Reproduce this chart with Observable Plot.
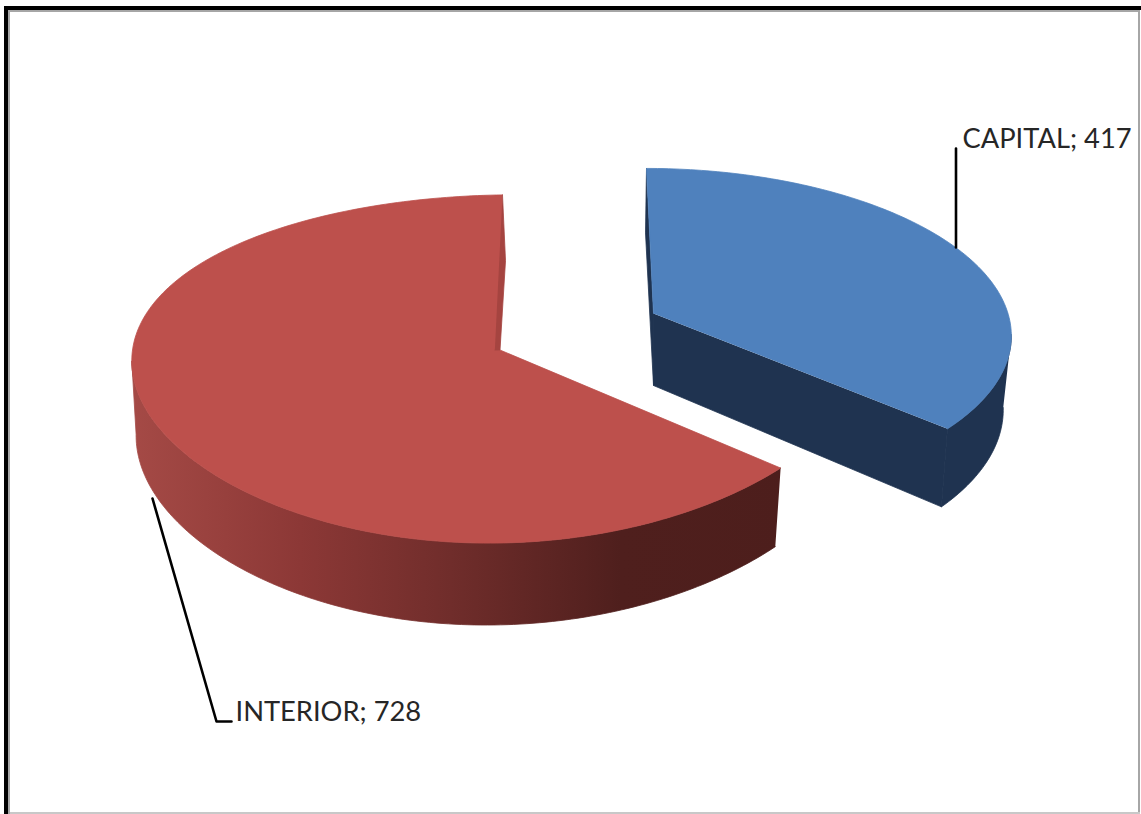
<!DOCTYPE html>
<html>
<head>
<meta charset="utf-8">
<script src="https://cdn.jsdelivr.net/npm/d3@7"></script>
<script src="https://cdn.jsdelivr.net/npm/@observablehq/plot@0.6"></script>
<style>
  html, body { margin: 0; padding: 0; background: #fff; }
  svg { display: block; }
</style>
</head>
<body>
<div id="chart"></div>
<script>
// Chart data
const regions = ["CAPITAL", "INTERIOR"];
const counts = [417, 728];

const W = 1141, H = 814;

// Perspective of each slice: apex position, radii, vanishing terms, shear, wall height
const capitalView = {cx: 653, cy: 313, a: 354.5, b: 162, kx: 0.117, ky: 0.1167, sx: -7, sy: 0,
                     depth: 72, shrink: 0.977, botShift: -1};
const interiorView = {cx: 499.5, cy: 349.5, a: 368, b: 172, kx: 0.027, ky: 0.109, sx: 2.5, sy: -5,
                      depth: 73, shrink: 0.988, botShift: 3};

// Project a point of the unit disc (u right, v back) at height z (0 top face, 1 base)
function project(view, u, v, z = 0) {
  const shrink = 1 - (1 - view.shrink) * z;
  return {
    x: view.cx + (view.sx + view.botShift * z) * v + shrink * view.a * u / (1 + view.kx * v),
    y: view.cy + view.sy * u + (-view.b * v + z * view.depth) / (1 + view.ky * v)
  };
}

const [capitalArc, interiorArc] = d3.pie().sort(null)(counts);

// Sample the outer edge of a slice, one point per degree
function edge(view, arc, z) {
  const n = Math.ceil((arc.endAngle - arc.startAngle) / (Math.PI / 180));
  return d3.range(n + 1).map(i => {
    const t = arc.startAngle + (arc.endAngle - arc.startAngle) * i / n;
    return project(view, Math.sin(t), Math.cos(t), z);
  });
}

const tag = (key, pts) => pts.map(p => ({...p, key}));

// Large slice: front of the rim (up to the leftmost point), top face, sliver of the cut face
const rTop = edge(interiorView, interiorArc, 0);
const rBot = edge(interiorView, interiorArc, 1);
const leftmost = d3.leastIndex(rTop, (a, b) => a.x - b.x);
const redRim = tag("rim", [...rTop.slice(0, leftmost + 1), ...rBot.slice(0, leftmost + 1).reverse()]);
const redTop = tag("top", [project(interiorView, 0, 0), ...rTop]);
const redCut = tag("cut", [rTop[rTop.length - 1], rBot[rBot.length - 1],
                           project(interiorView, 0, 0), project(interiorView, -0.014, 0)]);

// Detached slice: walls (rim from its rightmost point onward) and top face
const bTop = edge(capitalView, capitalArc, 0);
const bBot = edge(capitalView, capitalArc, 1);
const rightmost = d3.greatestIndex(bTop, (a, b) => a.x - b.x);
const apexTop = project(capitalView, 0, 0), apexBot = project(capitalView, 0, 0, 1);
const blueWalls = [
  ...tag("start", [apexTop, apexBot, bBot[0], bTop[0]]),
  ...tag("end", [apexTop, apexBot, bBot[bBot.length - 1], bTop[bTop.length - 1]]),
  ...tag("rim", [...bTop.slice(rightmost), ...bBot.slice(rightmost).reverse()])
];
const blueTop = tag("top", [apexTop, ...bTop]);

const labels = [
  {text: `${regions[0]}; ${counts[0]}`, x: 962, y: 139},
  {text: `${regions[1]}; ${counts[1]}`, x: 235, y: 712}
];
const leaders = [
  {key: 0, x: 955.5, y: 148}, {key: 0, x: 955.5, y: 247},
  {key: 1, x: 152, y: 498}, {key: 1, x: 216, y: 721}, {key: 1, x: 231, y: 721}
];
const frame = [
  {x1: 4, x2: 8, y1: 6, y2: H, fill: "#000"},
  {x1: 4, x2: W, y1: 6, y2: 10, fill: "#000"},
  {x1: 8, x2: 10, y1: 10, y2: H, fill: "#a6a6a6"},
  {x1: 8, x2: 1140, y1: 10, y2: 12, fill: "#a6a6a6"},
  {x1: 1138, x2: 1140, y1: 10, y2: H, fill: "#a6a6a6"},
  {x1: 10, x2: 1140, y1: 812, y2: H, fill: "#c8c8c8"}
];

// Left-to-right shading of the large slice's rim
const rimShade = [[130, "#a54a46"], [300, "#8c3836"], [450, "#702d2b"], [620, "#4f1f1d"], [790, "#4d1e1c"]];

function rimGradient() {
  const ns = "http://www.w3.org/2000/svg";
  const defs = document.createElementNS(ns, "defs");
  const grad = document.createElementNS(ns, "linearGradient");
  grad.setAttribute("id", "rim-shade");
  grad.setAttribute("gradientUnits", "userSpaceOnUse");
  grad.setAttribute("x1", rimShade[0][0]);
  grad.setAttribute("x2", rimShade[rimShade.length - 1][0]);
  grad.setAttribute("y1", 0);
  grad.setAttribute("y2", 0);
  const span = rimShade[rimShade.length - 1][0] - rimShade[0][0];
  for (const [x, color] of rimShade) {
    const stop = document.createElementNS(ns, "stop");
    stop.setAttribute("offset", (x - rimShade[0][0]) / span);
    stop.setAttribute("stop-color", color);
    grad.append(stop);
  }
  defs.append(grad);
  return defs;
}

const polygon = (data, fill) => Plot.line(data, {x: "x", y: "y", z: "key", fill, stroke: fill, strokeWidth: 0.8});

const chart = Plot.plot({
  width: W,
  height: H,
  margin: 0,
  x: {domain: [0, W], range: [0, W], axis: null},
  y: {domain: [0, H], range: [0, H], axis: null},
  style: {background: "#fff"},
  marks: [
    rimGradient,
    polygon(redRim, "url(#rim-shade)"),
    polygon(redTop, "#bd504c"),
    polygon(redCut, "#a54440"),
    polygon(blueWalls, "#1f3350"),
    polygon(blueTop, "#4f81bd"),
    Plot.line(leaders, {x: "x", y: "y", z: "key", stroke: "#000", strokeWidth: 2.6}),
    Plot.text(labels, {x: "x", y: "y", text: "text", textAnchor: "start", fill: "#262626",
                       fontFamily: "Lato", fontSize: 27.3}),
    Plot.rect(frame, {x1: "x1", x2: "x2", y1: "y1", y2: "y2", fill: d => d.fill})
  ]
});
document.getElementById("chart").append(chart);
</script>
</body>
</html>
